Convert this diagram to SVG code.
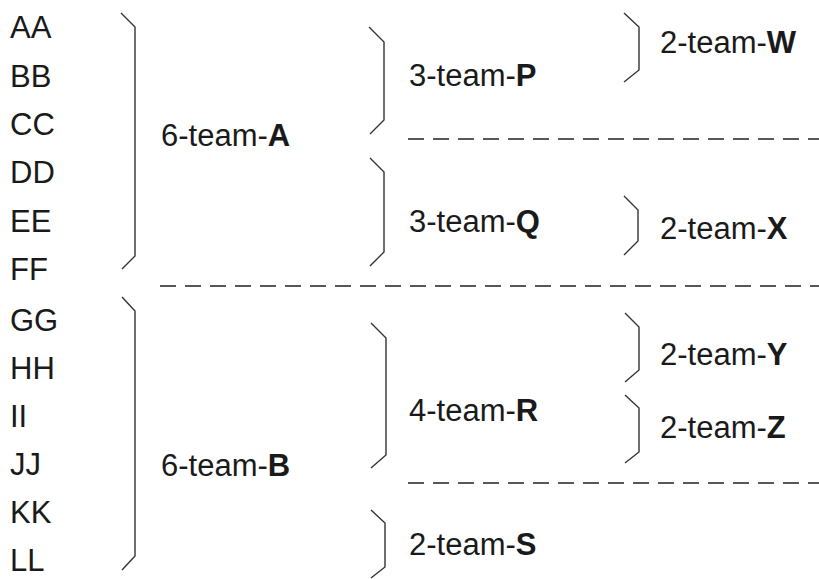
<svg xmlns="http://www.w3.org/2000/svg" width="819" height="579" viewBox="0 0 819 579">
<style>
text{font-family:"Liberation Sans",Arial,Helvetica,sans-serif;font-size:31px;fill:#1a1a1a}
.b{font-weight:bold}
.br{fill:none;stroke:#333;stroke-width:1.4}
.d{fill:none;stroke:#222;stroke-width:1.6;stroke-dasharray:16 9}
</style>
<rect width="819" height="579" fill="#fff"/>
<g id="teams">
<text x="10" y="38">AA</text>
<text x="10" y="86.5">BB</text>
<text x="10" y="135">CC</text>
<text x="10" y="183">DD</text>
<text x="10" y="231.5">EE</text>
<text x="10" y="280">FF</text>
<text x="10" y="331">GG</text>
<text x="10" y="379">HH</text>
<text x="10" y="427">II</text>
<text x="10" y="475">JJ</text>
<text x="10" y="523">KK</text>
<text x="10" y="571">LL</text>
</g>
<g id="connectors">
<path class="d" d="M408 139H819"/>
<path class="d" d="M160 286H819"/>
<path class="d" d="M408 483H819"/>
</g>
<g id="A"><path class="br" d="M121 13L135 27V256L122 269"/><text x="161" y="146">6-team-<tspan class="b">A</tspan></text></g>
<g id="B"><path class="br" d="M122 297L135 311V556L122 570"/><text x="161" y="476">6-team-<tspan class="b">B</tspan></text></g>
<g id="P"><path class="br" d="M369 27L384 42V120L370 134"/><text x="409" y="86">3-team-<tspan class="b">P</tspan></text></g>
<g id="Q"><path class="br" d="M370 158L384 172V252L370 266"/><text x="409" y="232">3-team-<tspan class="b">Q</tspan></text></g>
<g id="R"><path class="br" d="M371 323L386 338V455L371 468"/><text x="409" y="421">4-team-<tspan class="b">R</tspan></text></g>
<g id="S"><path class="br" d="M371 510L385 523V567L371 578"/><text x="409" y="555">2-team-<tspan class="b">S</tspan></text></g>
<g id="W"><path class="br" d="M624 13L639 27V70L624 82"/><text x="660" y="53">2-team-<tspan class="b">W</tspan></text></g>
<g id="X"><path class="br" d="M624 196L638 210V241L624 255"/><text x="660" y="239">2-team-<tspan class="b">X</tspan></text></g>
<g id="Y"><path class="br" d="M625 313L639 327V370L625 382"/><text x="660" y="365">2-team-<tspan class="b">Y</tspan></text></g>
<g id="Z"><path class="br" d="M625 395L639 408V452L625 463"/><text x="660" y="438">2-team-<tspan class="b">Z</tspan></text></g>
</svg>
